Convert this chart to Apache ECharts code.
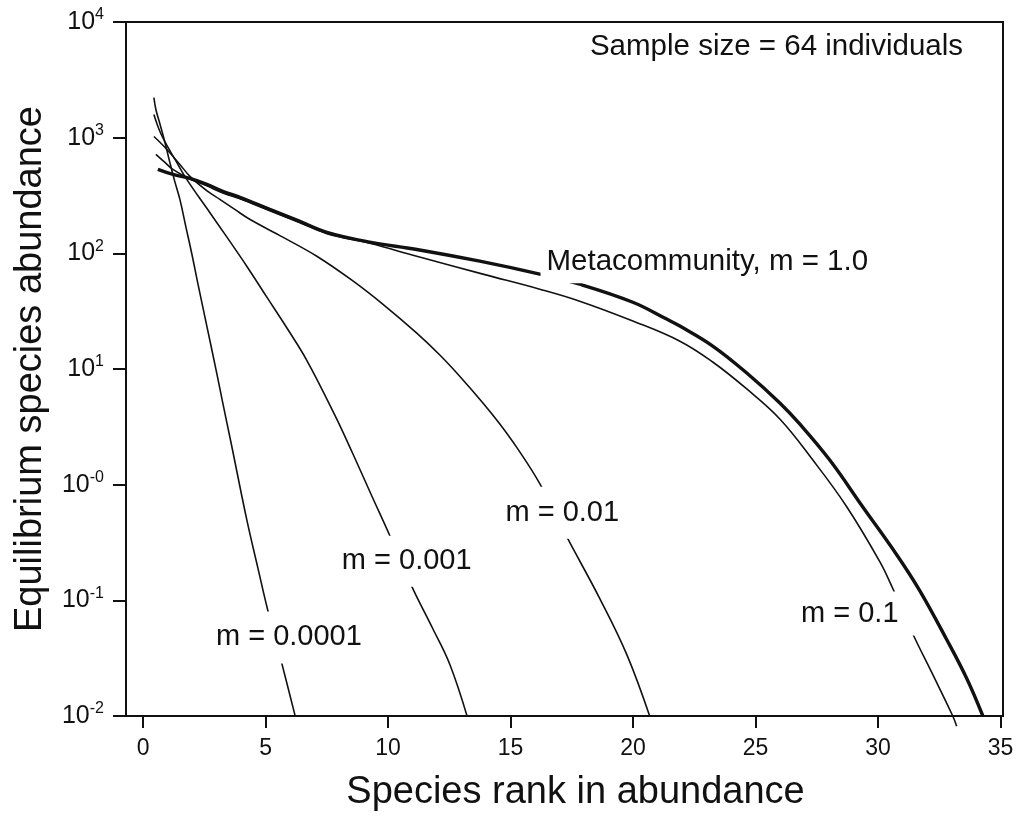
<!DOCTYPE html>
<html>
<head>
<meta charset="utf-8">
<script src="https://cdn.jsdelivr.net/npm/echarts@6/dist/echarts.min.js"></script>
<style>
html,body{margin:0;padding:0;background:#fff;}
#chart{width:1024px;height:817px;}
</style>
</head>
<body>
<div id="chart"></div>
<script>
// ---- data ----
const xTickValues = [0, 5, 10, 15, 20, 25, 30, 35];
const yTickValues = [0.01, 0.1, 1, 10, 100, 1000, 10000];
const yTickExponents = ['-2', '-1', '-0', '1', '2', '3', '4'];

const rankM0001 = [0.44,0.52,0.68,0.89,1.09,1.29,1.50,1.74,1.99,2.23,2.60,3.01,3.25,3.58,4.23,4.68,5.09,5.66,6.23];
const abunM0001 = [2220,1751,1326,909,611,419,293,171,98.2,55.2,23.5,9.06,5.09,2.35,0.498,0.192,0.0817,0.0285,0.00955];

const rankM001 = [0.44,0.56,0.72,0.97,1.30,1.78,2.60,3.42,4.23,5.05,5.87,6.68,7.82,8.56,9.33,10.07,10.97,11.82,12.52,13.25];
const abunM001 = [1586,1326,1087,856,648,436,245,138,77.4,41.8,22.6,11.9,4.01,1.85,0.802,0.362,0.1316,0.0571,0.0279,0.00955];

const rankM01 = [0.44,0.97,1.50,1.91,2.64,3.13,3.74,4.35,5.70,7.09,8.52,9.78,11.17,12.11,12.93,13.87,14.56,15.25,16.19,17.29,18.64,19.74,20.68];
const abunM01 = [1023,791,587,463,343,293,240,197,138,94.4,58.6,36.4,20.4,13.2,8.62,5.09,3.35,2.10,1.02,0.355,0.1036,0.0341,0.00993];

const rankM1 = [0.52,0.89,1.21,1.91,2.60,3.25,3.95,5.17,6.40,7.50,9.25,11.17,13.87,16.19,17.82,19.99,21.91,23.25,24.64,25.99,27.33,28.72,30.07,30.60,31.41,32.23,33.04,33.21];
const abunM1 = [716,611,532,440,383,333,296,233,184,148,122,94.4,66.1,49.0,38.6,26.0,17.4,11.5,6.72,3.70,1.64,0.645,0.216,0.1265,0.0517,0.0229,0.0101,0.00817];

const rankMeta = [0.60,1.22,1.91,2.60,3.25,3.95,5.17,6.40,7.50,9.25,11.17,13.74,16.19,17.82,19.99,21.37,21.91,23.25,24.64,25.99,26.80,28.02,29.37,30.76,31.70,32.80,33.62,34.27];
const abunMeta = [532,481,445,395,343,305,240,189,152,125,108,85.5,66.1,54.1,37.8,27.0,23.5,15.8,9.24,5.09,3.35,1.64,0.645,0.248,0.1215,0.0459,0.0211,0.0101];

const seriesNames = ['m = 0.0001', 'm = 0.001', 'm = 0.01', 'm = 0.1', 'Metacommunity, m = 1.0'];

// ---- chart ----
const FONT = '"Liberation Sans", Arial, Helvetica, sans-serif';
const INK = '#111';
function zip(xs, ys) { return xs.map((x, i) => [x, ys[i]]); }

function labelMark(text, coord, padding, size) {
  return {
    symbol: 'rect', symbolSize: 1, silent: true, animation: false,
    itemStyle: { color: 'rgba(0,0,0,0)' },
    label: {
      show: true, position: 'inside', formatter: text,
      fontFamily: FONT, fontSize: size, lineHeight: 30, color: INK,
      backgroundColor: '#fff', padding: padding
    },
    data: [{ coord: coord }]
  };
}

function lineSeries(name, data, width, mark, clip) {
  return {
    name: name, type: 'line', data: data,
    showSymbol: false, symbol: 'none',
    smooth: 0.4,
    clip: clip,
    lineStyle: { color: INK, width: width },
    z: width > 2 ? 3 : 2,
    markPoint: mark
  };
}

const chart = echarts.init(document.getElementById('chart'), null, { renderer: 'canvas' });
chart.setOption({
  animation: false,
  backgroundColor: '#fff',
  grid: { left: 126, right: 21, top: 22, bottom: 97, show: true, borderColor: INK, borderWidth: 2, backgroundColor: 'transparent' },
  xAxis: {
    type: 'value', min: -0.7, max: 35.1,
    axisLine: { show: false, onZero: false },
    axisTick: { show: true, inside: false, length: 12, lineStyle: { color: INK, width: 2 }, customValues: xTickValues },
    axisLabel: { customValues: xTickValues, fontFamily: FONT, fontSize: 23, color: INK, margin: 21 },
    splitLine: { show: false },
    name: 'Species rank in abundance', nameLocation: 'middle', nameGap: 58,
    nameTextStyle: { fontFamily: FONT, fontSize: 38, color: INK, padding: [0, 0, 0, 22] }
  },
  yAxis: {
    type: 'log', logBase: 10, min: 0.01, max: 10000, splitNumber: 6,
    axisLine: { show: false, onZero: false },
    axisTick: { show: true, inside: false, length: 13, lineStyle: { color: INK, width: 2 } },
    minorTick: { show: false },
    splitLine: { show: false },
    axisLabel: {
      margin: 22, color: INK,
      formatter: function (v) {
        let idx = 0;
        yTickValues.forEach((t, i) => { if (Math.abs(Math.log10(t) - Math.log10(v)) < 1e-6) idx = i; });
        return '{b|10}{s|' + yTickExponents[idx] + '}';
      },
      rich: {
        b: { fontFamily: FONT, fontSize: 25, lineHeight: 30, color: INK },
        s: { fontFamily: FONT, fontSize: 16, lineHeight: 16, verticalAlign: 'top', color: INK }
      }
    },
    name: 'Equilibrium species abundance', nameLocation: 'middle', nameGap: 76,
    nameTextStyle: { fontFamily: FONT, fontSize: 38, color: INK }
  },
  graphic: [{
    type: 'text', right: 61, top: 32, z: 10,
    style: { text: 'Sample size = 64 individuals', font: '29.5px ' + FONT, fill: INK }
  }],
  series: [
    lineSeries(seriesNames[0], zip(rankM0001, abunM0001), 1.6, labelMark(seriesNames[0], [5.95, 0.0478], [8, 6, 14, 6], 29), true),
    lineSeries(seriesNames[1], zip(rankM001, abunM001), 1.6, labelMark(seriesNames[1], [10.76, 0.218], [5, 6, 16, 6], 29), true),
    lineSeries(seriesNames[2], zip(rankM01, abunM01), 1.6, labelMark(seriesNames[2], [17.11, 0.572], [5, 6, 17, 6], 29), true),
    lineSeries(seriesNames[3], zip(rankM1, abunM1), 1.6, labelMark(seriesNames[3], [29.09, 0.0769], [8, 18, 6, 6], 29), false),
    lineSeries(seriesNames[4], zip(rankMeta, abunMeta), 3.4, labelMark(seriesNames[4], [23.03, 84.6], [5, 6, 8, 6], 29.5), true)
  ]
});
</script>
</body>
</html>
